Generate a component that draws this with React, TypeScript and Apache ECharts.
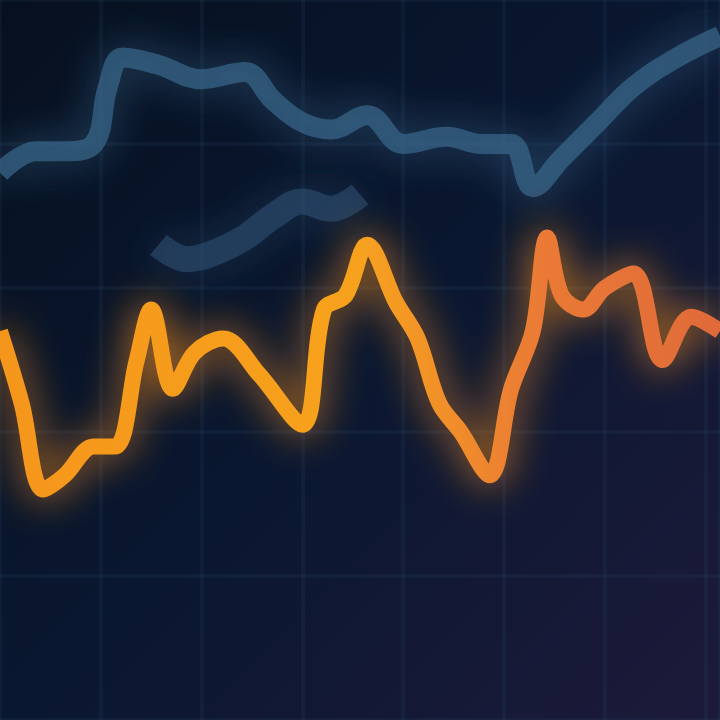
import React, { useEffect, useRef } from "react";
import * as echarts from "echarts";

// x positions (0-100 scale) and values (0-100, bottom = 0)
const orangeX = [0, 3, 6, 9, 13, 16, 19, 21, 24, 27, 31, 36, 42, 45, 48, 51, 55, 58, 61, 64, 68, 71, 74, 76, 78, 81, 84, 88, 92, 96, 100];
const orangeY = [54, 44, 32, 34, 38, 38, 50, 57, 46, 51, 53, 48, 41, 57, 59, 66, 58, 53, 44, 40, 34, 46, 54, 67, 59, 57, 60, 62, 50, 56, 54];

const blueX = [0, 5, 9, 13, 15, 17, 22, 28, 34, 38, 42, 46, 51, 56, 62, 67, 71, 74, 78, 83, 88, 94, 100];
const blueY = [76, 79, 79, 80, 88, 92, 91, 89, 90, 86, 83, 82, 84, 80, 81, 80, 80, 74, 78, 83, 88, 92, 95];

const blue2X = [22, 26, 30, 34, 38, 42, 46, 50];
const blue2Y = [66, 64, 65, 67, 70, 72, 71, 73];

const pairs = (xs: number[], ys: number[]) => xs.map((x, i) => [x, ys[i]]);

export default function App() {
  const ref = useRef<HTMLDivElement>(null);
  useEffect(() => {
    if (!ref.current) return;
    const chart = echarts.init(ref.current, null, { renderer: "svg" });
    chart.setOption({
      animation: false,
      backgroundColor: new echarts.graphic.LinearGradient(0, 0, 1, 1, [
        { offset: 0, color: "#06101f" },
        { offset: 0.5, color: "#0a1730" },
        { offset: 1, color: "#1c1a3a" },
      ]),
      grid: { left: 0, right: 0, top: 0, bottom: 0 },
      xAxis: {
        type: "value", min: 0, max: 100, interval: 14,
        axisLine: { show: false }, axisTick: { show: false }, axisLabel: { show: false },
        splitLine: { show: true, lineStyle: { color: "rgba(60,110,150,0.1)", width: 4 } },
      },
      yAxis: {
        type: "value", min: 0, max: 100, interval: 20,
        axisLine: { show: false }, axisTick: { show: false }, axisLabel: { show: false },
        splitLine: { show: true, lineStyle: { color: "rgba(60,110,150,0.1)", width: 4 } },
      },
      series: [
        {
          type: "line", data: pairs(blue2X, blue2Y), smooth: 0.4, symbol: "none",
          lineStyle: { width: 26, color: "rgba(50,90,125,0.5)", shadowBlur: 40, shadowColor: "rgba(50,90,125,0.8)" },
        },
        {
          type: "line", data: pairs(blueX, blueY), smooth: 0.4, symbol: "none",
          lineStyle: { width: 20, color: "rgba(55,100,135,0.75)", shadowBlur: 40, shadowColor: "rgba(55,100,135,0.9)" },
        },
        {
          type: "line", data: pairs(orangeX, orangeY), smooth: 0.35, symbol: "none",
          lineStyle: {
            width: 16,
            color: new echarts.graphic.LinearGradient(0, 0, 1, 0, [
              { offset: 0, color: "#f5961e" },
              { offset: 0.5, color: "#f7a21f" },
              { offset: 0.75, color: "#ea7a35" },
              { offset: 1, color: "#e06a3a" },
            ]),
            shadowBlur: 40, shadowColor: "rgba(240,140,30,0.9)",
          },
        },
      ],
    });
    return () => chart.dispose();
  }, []);
  return <div ref={ref} style={{ position: "fixed", left: 0, top: 0, width: 720, height: 720 }} />;
}
